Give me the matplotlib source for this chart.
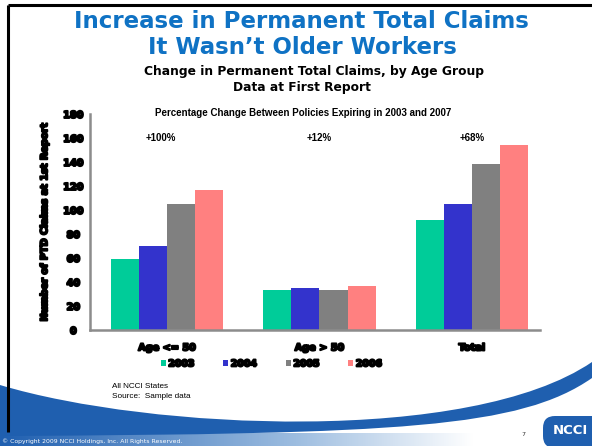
import numpy as np
import matplotlib
matplotlib.use("Agg")
from matplotlib import pyplot as plt
from matplotlib.path import Path
from matplotlib.patches import PathPatch, FancyBboxPatch
import matplotlib.patheffects as pe

# datos del grafico
grupos = ["Age <= 50", "Age > 50", "Total"]
anios = ["2003", "2004", "2005", "2006"]
v2003 = [59, 33, 92]
v2004 = [70, 35, 105]
v2005 = [105, 33, 138]
v2006 = [117, 37, 154]
cambios = ["+100%", "+12%", "+68%"]
yticks = [0, 20, 40, 60, 80, 100, 120, 140, 160, 180]

colores = ["#00CC99", "#3333CC", "#808080", "#FF8080"]
azul = "#1F5FAF"

W, H = 592, 446
fig = plt.figure(figsize=(W / 100, H / 100), dpi=100)
fig.patch.set_facecolor("white")

# capa de fondo en coordenadas de pixel (marco y curva azul)
bg = fig.add_axes([0, 0, 1, 1], zorder=0)
bg.axis("off")

# franja inferior con degradado
grad = np.linspace(0, 1, 256)
r = np.interp(grad, [0, 0.5, 0.8, 1], [0x1F, 0x9D, 0xFF, 0xFF]) / 255
g = np.interp(grad, [0, 0.5, 0.8, 1], [0x5F, 0xBD, 0xFF, 0xFF]) / 255
b = np.interp(grad, [0, 0.5, 0.8, 1], [0xB0, 0xE0, 0xFF, 0xFF]) / 255
img = np.dstack([r, g, b])  # forma (1, 256, 3)
bg.imshow(img, extent=[0, W, H, 433], aspect="auto", zorder=1)
bg.set_xlim(0, W)
bg.set_ylim(H, 0)

# banda azul curva
verts = [(0, 385), (150, 430), (470, 445), (592, 362),
         (592, 378), (520, 428), (400, 434), (0, 436), (0, 385)]
codes = [Path.MOVETO, Path.CURVE4, Path.CURVE4, Path.CURVE4,
         Path.LINETO, Path.CURVE4, Path.CURVE4, Path.CURVE4, Path.CLOSEPOLY]
bg.add_patch(PathPatch(Path(verts, codes), facecolor=azul, edgecolor="none", zorder=2))

# marco negro
bg.plot([8, W], [5, 5], color="black", lw=2.2, zorder=3, solid_capstyle="butt")
bg.plot([8, 8], [5, 432], color="black", lw=2.2, zorder=3, solid_capstyle="butt")

# logo
bg.add_patch(FancyBboxPatch((543, 416), 70, 32, boxstyle="round,pad=0,rounding_size=12",
                            facecolor=azul, edgecolor="none", zorder=3))
bg.text(553, 431, "NCCI", color="white", fontsize=9.5, fontweight="bold",
        ha="left", va="center", zorder=4)
bg.text(523, 434, "7", fontsize=4.5, color="#333333", ha="center", va="center")

# textos del titulo
tcol = "#0F72C4"
bg.text(301, 22, "Increase in Permanent Total Claims", color=tcol, fontsize=16.5,
        fontweight="bold", ha="center", va="center")
bg.text(302, 47, "It Wasn\u2019t Older Workers", color=tcol, fontsize=16.5,
        fontweight="bold", ha="center", va="center")
bg.text(314, 72, "Change in Permanent Total Claims, by Age Group", fontsize=8.8,
        fontweight="bold", ha="center", va="center")
bg.text(302, 88, "Data at First Report", fontsize=8.8, fontweight="bold",
        ha="center", va="center")
bg.text(303, 113, "Percentage Change Between Policies Expiring in 2003 and 2007",
        fontsize=7, fontweight="bold", family="Liberation Sans", ha="center", va="center")

bg.text(112, 387, "All NCCI States", fontsize=5.9, family="Liberation Sans", va="center")
bg.text(112, 397, "Source:  Sample data", fontsize=5.9, family="Liberation Sans", va="center")
bg.text(2, 441, "\u00a9 Copyright 2009 NCCI Holdings, Inc. All Rights Reserved.", fontsize=4.4,
        color="white", va="center")

# grafico de barras
ax = fig.add_axes([90 / W, 1 - 330 / H, 450 / W, 216 / H], zorder=5)
ax.patch.set_alpha(0)
x = np.arange(len(grupos))
ancho = 0.184
for i, (vals, c, lab) in enumerate(zip([v2003, v2004, v2005, v2006], colores, anios)):
    ax.bar(x + (i - 1.5) * ancho, vals, ancho, color=c, label=lab)

ax.set_xlim(-0.505, 2.446)
ax.set_ylim(0, 180)
ax.set_yticks(yticks)
ax.set_xticks(x)
ax.set_xticklabels(grupos)
ax.tick_params(length=0)
ax.tick_params(axis="x", pad=9)
blob = [pe.withStroke(linewidth=1.4, foreground="black")]
for t in ax.get_yticklabels() + ax.get_xticklabels():
    t.set_fontsize(7)
    t.set_fontweight("bold")
    t.set_path_effects(blob)
ax.tick_params(axis="y", pad=12)
for lab in ax.get_yticklabels():
    lab.set_horizontalalignment("center")
for s in ["top", "right"]:
    ax.spines[s].set_visible(False)
for s in ["left", "bottom"]:
    ax.spines[s].set_color("#8C8C8C")
    ax.spines[s].set_linewidth(1.8)

for xi, txt, dx in zip(x, cambios, [-0.04, 0, 0]):
    ax.text(xi + dx, 160, txt, fontsize=7, fontweight="bold", family="Liberation Sans",
            ha="center", va="center")

ax.set_ylabel("Number of PTD Claims at 1st Report", fontsize=7, fontweight="bold",
              path_effects=blob, labelpad=10)

leg = ax.legend(loc="center", bbox_to_anchor=(0.403, -0.157), ncol=4, frameon=False,
                handlelength=0.55, handleheight=0.55, handletextpad=0.25, columnspacing=3.05,
                fontsize=6.8, borderaxespad=0)
for t in leg.get_texts():
    t.set_fontweight("bold")
    t.set_path_effects(blob)

fig.savefig("out.png", dpi=100)
